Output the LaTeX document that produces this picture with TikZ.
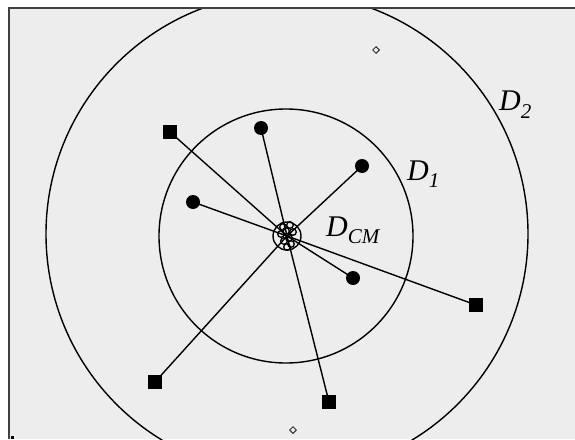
\documentclass[tikz,border=0pt]{standalone}
\usepackage{fontspec}
\setmainfont{Liberation Serif}
\usetikzlibrary{shapes.geometric}
\begin{document}
\begin{tikzpicture}[x=1pt,y=-1pt,
  sq/.style={fill=black,minimum size=14pt,inner sep=0pt,draw=none,rectangle},
  dot/.style={fill=black,circle,minimum size=14pt,inner sep=0pt},
  dia/.style={diamond,draw=black!80,line width=1pt,fill=none,minimum size=7pt,inner sep=0pt},
  ray/.style={line width=1.4pt},
  ring/.style={line width=1.4pt},
  lbl/.style={inner sep=0pt,anchor=base west,font=\fontsize{30}{30}\selectfont\itshape}]
\useasboundingbox (0,0) rectangle (575,439);
\fill[white] (0,0) rectangle (575,439);
\fill[black!7] (8,7) rectangle (575,439);
\draw[black!75,line width=2pt] (9,439) -- (9,8) -- (575,8);
\fill[black] (11,436) rectangle (14,439);
\begin{scope}
\clip (10,9) rectangle (575,439);
\coordinate (c) at (287,236);
\draw[ring] (287,234) circle (241);
\draw[ring] (286,236) circle (127);
\draw[ring] (c) circle (14);
\foreach \p in {(283,227),(290,225),(286,231),(293,232),(289,238),(284,241),(291,244),(287,247),(281,234)}
  \draw[line width=1.3pt] \p circle (3.3);
\node[sq] (s1) at (170,132) {};
\node[sq] (s2) at (476,305) {};
\node[sq] (s3) at (155,382) {};
\node[sq] (s4) at (329,402) {};
\node[dot] (d1) at (261,128) {};
\node[dot] (d2) at (362,166) {};
\node[dot] (d3) at (193,202) {};
\node[dot] (d4) at (353,278) {};
\node[dia] (m1) at (376,50) {};
\node[dia] (m2) at (293,430) {};
\foreach \n in {s1,s2,s3,s4,d1,d2,d3,d4}
  \draw[ray] (\n.center) -- (c);
\node[lbl] (l2) at (499,110) {D\raisebox{-0.27em}{\fontsize{21}{21}\selectfont\itshape 2}};
\node[lbl] (l1) at (407,180) {D\raisebox{-0.25em}{\fontsize{21}{21}\selectfont\itshape 1}};
\node[lbl] (lc) at (326,236) {D\raisebox{-0.25em}{\fontsize{21}{21}\selectfont\itshape CM}};
\end{scope}
\end{tikzpicture}
\end{document}
